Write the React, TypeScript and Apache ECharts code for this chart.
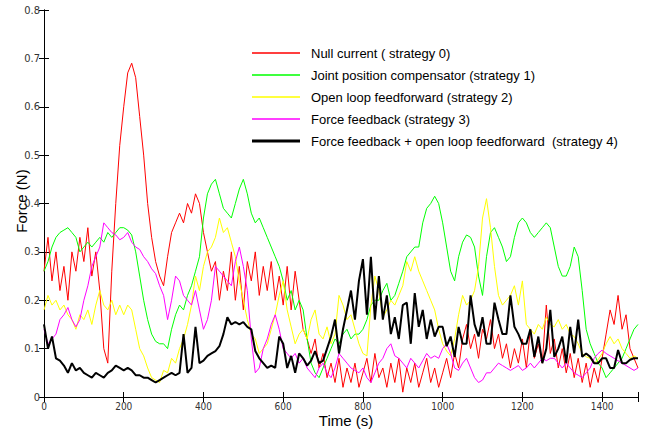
import React, { useEffect, useRef } from "react";
import * as echarts from "echarts";

// sample grid: one reading every 10 s, from 0 s to 1490 s
const STEP_S = 10;

const SERIES_NAMES = [
  "Null current ( strategy 0)",
  "Joint position compensator (strategy 1)",
  "Open loop feedforward (strategy 2)",
  "Force feedback (strategy 3)",
  "Force feedback + open loop feedforward  (strategy 4)",
];

const RED = [
  0.26, 0.33, 0.24, 0.30, 0.22, 0.27, 0.20, 0.30, 0.26, 0.33,
  0.28, 0.35, 0.25, 0.30, 0.22, 0.10, 0.07, 0.26, 0.40, 0.52,
  0.60, 0.67, 0.69, 0.66, 0.58, 0.50, 0.40, 0.33, 0.28, 0.25,
  0.23, 0.29, 0.34, 0.36, 0.38, 0.36, 0.40, 0.38, 0.42, 0.40,
  0.34, 0.30, 0.26, 0.28, 0.20, 0.26, 0.22, 0.30, 0.20, 0.27,
  0.18, 0.28, 0.24, 0.30, 0.21, 0.27, 0.22, 0.28, 0.20, 0.25,
  0.19, 0.27, 0.18, 0.26, 0.20, 0.14, 0.12, 0.09, 0.12, 0.06,
  0.09, 0.04, 0.07, 0.03, 0.08, 0.02, 0.06, 0.03, 0.07, 0.02,
  0.05, 0.08, 0.03, 0.09, 0.04, 0.06, 0.02, 0.07, 0.03, 0.08,
  0.01, 0.06, 0.03, 0.07, 0.02, 0.05, 0.08, 0.03, 0.06, 0.02,
  0.05, 0.08, 0.04, 0.09, 0.06, 0.12, 0.15, 0.10, 0.13, 0.08,
  0.14, 0.12, 0.16, 0.10, 0.13, 0.08, 0.11, 0.06, 0.10, 0.07,
  0.12, 0.06, 0.14, 0.08, 0.11, 0.07, 0.19, 0.09, 0.12, 0.06,
  0.10, 0.05, 0.09, 0.04, 0.08, 0.03, 0.07, 0.02, 0.06, 0.03,
  0.08, 0.13, 0.18, 0.15, 0.21, 0.14, 0.17, 0.10, 0.08, 0.06,
];

const GREEN = [
  0.26, 0.28, 0.31, 0.33, 0.34, 0.345, 0.35, 0.34, 0.33, 0.30,
  0.31, 0.32, 0.31, 0.32, 0.33, 0.32, 0.34, 0.33, 0.34, 0.35,
  0.35, 0.345, 0.335, 0.30, 0.25, 0.20, 0.16, 0.13, 0.115, 0.11,
  0.11, 0.10, 0.14, 0.17, 0.19, 0.18, 0.21, 0.23, 0.26, 0.29,
  0.37, 0.42, 0.44, 0.45, 0.42, 0.39, 0.38, 0.37, 0.40, 0.43,
  0.45, 0.42, 0.38, 0.36, 0.37, 0.35, 0.33, 0.31, 0.29, 0.27,
  0.24, 0.20, 0.22, 0.18, 0.20, 0.18, 0.12, 0.07, 0.05, 0.04,
  0.06, 0.08, 0.10, 0.12, 0.11, 0.13, 0.14, 0.12, 0.13, 0.13,
  0.14, 0.16, 0.19, 0.20, 0.20, 0.22, 0.235, 0.20, 0.21, 0.235,
  0.26, 0.29, 0.30, 0.31, 0.31, 0.36, 0.39, 0.40, 0.415, 0.40,
  0.36, 0.31, 0.26, 0.24, 0.29, 0.32, 0.335, 0.33, 0.31, 0.25,
  0.21, 0.29, 0.34, 0.35, 0.33, 0.31, 0.28, 0.29, 0.33, 0.36,
  0.37, 0.36, 0.34, 0.33, 0.34, 0.35, 0.36, 0.35, 0.31, 0.27,
  0.25, 0.25, 0.27, 0.31, 0.29, 0.22, 0.14, 0.11, 0.09, 0.07,
  0.06, 0.04, 0.05, 0.06, 0.07, 0.08, 0.10, 0.12, 0.14, 0.15,
];

const YELLOW = [
  0.18, 0.21, 0.19, 0.20, 0.18, 0.19, 0.17, 0.16, 0.14, 0.17,
  0.16, 0.18, 0.15, 0.19, 0.22, 0.19, 0.18, 0.20, 0.17, 0.19,
  0.17, 0.19, 0.18, 0.14, 0.10, 0.085, 0.06, 0.04, 0.035, 0.03,
  0.055, 0.05, 0.08, 0.07, 0.10, 0.12, 0.15, 0.19, 0.25, 0.22,
  0.27, 0.30, 0.31, 0.33, 0.37, 0.34, 0.35, 0.32, 0.29, 0.24,
  0.20, 0.16, 0.13, 0.12, 0.09, 0.10, 0.11, 0.14, 0.17, 0.21,
  0.24, 0.18, 0.145, 0.11, 0.13, 0.14, 0.12, 0.16, 0.18, 0.13,
  0.12, 0.145, 0.11, 0.13, 0.21, 0.19, 0.16, 0.17, 0.14, 0.11,
  0.09, 0.085, 0.19, 0.25, 0.22, 0.165, 0.18, 0.20, 0.19, 0.21,
  0.23, 0.28, 0.26, 0.29, 0.26, 0.24, 0.22, 0.20, 0.18, 0.14,
  0.11, 0.095, 0.085, 0.12, 0.17, 0.21, 0.19, 0.20, 0.22, 0.27,
  0.37, 0.41, 0.35, 0.27, 0.21, 0.19, 0.20, 0.21, 0.23, 0.19,
  0.24, 0.15, 0.14, 0.13, 0.15, 0.14, 0.165, 0.15, 0.145, 0.16,
  0.14, 0.15, 0.13, 0.125, 0.11, 0.09, 0.083, 0.08, 0.07, 0.077,
  0.09, 0.11, 0.125, 0.11, 0.12, 0.10, 0.09, 0.08, 0.085, 0.08,
];

const MAGENTA = [
  0.14, 0.11, 0.12, 0.13, 0.16, 0.17, 0.185, 0.16, 0.145, 0.16,
  0.20, 0.23, 0.27, 0.29, 0.31, 0.36, 0.35, 0.34, 0.335, 0.325,
  0.33, 0.34, 0.32, 0.31, 0.305, 0.29, 0.28, 0.265, 0.255, 0.23,
  0.21, 0.16, 0.20, 0.25, 0.24, 0.21, 0.20, 0.19, 0.22, 0.18,
  0.14, 0.16, 0.20, 0.27, 0.26, 0.25, 0.24, 0.23, 0.28, 0.31,
  0.27, 0.22, 0.12, 0.05, 0.06, 0.10, 0.12, 0.15, 0.17, 0.14,
  0.10, 0.09, 0.08, 0.09, 0.07, 0.08, 0.06, 0.05, 0.04, 0.06,
  0.07, 0.05, 0.04, 0.06, 0.09, 0.08, 0.07, 0.06, 0.055, 0.05,
  0.06, 0.04, 0.03, 0.05, 0.07, 0.08, 0.10, 0.11, 0.085, 0.08,
  0.07, 0.06, 0.08, 0.07, 0.06, 0.075, 0.09, 0.08, 0.085, 0.08,
  0.10, 0.11, 0.09, 0.06, 0.055, 0.07, 0.08, 0.06, 0.04, 0.03,
  0.035, 0.05, 0.05, 0.06, 0.07, 0.065, 0.06, 0.055, 0.06, 0.065,
  0.055, 0.06, 0.07, 0.06, 0.07, 0.08, 0.075, 0.08, 0.08, 0.07,
  0.06, 0.07, 0.06, 0.05, 0.045, 0.04, 0.05, 0.06, 0.08, 0.09,
  0.097, 0.09, 0.085, 0.08, 0.075, 0.07, 0.065, 0.06, 0.055, 0.06,
];

const BLACK = [
  0.15, 0.10, 0.125, 0.08, 0.075, 0.065, 0.05, 0.07, 0.055, 0.06,
  0.05, 0.045, 0.04, 0.05, 0.045, 0.04, 0.05, 0.055, 0.065, 0.06,
  0.055, 0.06, 0.055, 0.045, 0.045, 0.04, 0.04, 0.035, 0.03, 0.035,
  0.04, 0.045, 0.05, 0.045, 0.05, 0.13, 0.05, 0.06, 0.145, 0.07,
  0.075, 0.085, 0.09, 0.095, 0.105, 0.13, 0.165, 0.15, 0.155, 0.15,
  0.155, 0.145, 0.14, 0.095, 0.08, 0.07, 0.06, 0.065, 0.06, 0.125,
  0.11, 0.06, 0.085, 0.05, 0.09, 0.08, 0.065, 0.075, 0.095, 0.07,
  0.075, 0.10, 0.125, 0.16, 0.09, 0.14, 0.18, 0.22, 0.16, 0.24,
  0.285, 0.17, 0.29, 0.16, 0.25, 0.16, 0.21, 0.13, 0.165, 0.12,
  0.19, 0.195, 0.11, 0.215, 0.145, 0.18, 0.12, 0.16, 0.125, 0.145,
  0.145, 0.105, 0.125, 0.083, 0.145, 0.11, 0.11, 0.21, 0.15, 0.125,
  0.165, 0.11, 0.11, 0.195, 0.16, 0.13, 0.13, 0.21, 0.145, 0.13,
  0.11, 0.11, 0.14, 0.083, 0.125, 0.07, 0.10, 0.18, 0.083, 0.10,
  0.125, 0.07, 0.145, 0.09, 0.16, 0.083, 0.09, 0.083, 0.07, 0.07,
  0.08, 0.08, 0.06, 0.06, 0.097, 0.07, 0.07, 0.077, 0.08, 0.08,
];

const X_MIN = 0;
const X_MAX = 1490;
const X_INTERVAL = 200;
const Y_MIN = 0;
const Y_MAX = 0.8;
const Y_INTERVAL = 0.1;

const COLORS = ["#ff0000", "#00ff00", "#ffff00", "#ff00ff", "#000000"];
const WIDTHS = [1, 1, 1, 1, 2];
const VALUES = [RED, GREEN, YELLOW, MAGENTA, BLACK];

const SANS = "'Liberation Sans', Arial, Helvetica, sans-serif";
const NARROW = "'Liberation Sans Narrow', 'Arial Narrow', 'DejaVu Sans Condensed', sans-serif";

// legend sample: a horizontal bar of the given thickness inside a 48x14 box
const legendLineIcon = (thick: number) => {
  const y0 = 7 - thick / 2;
  const y1 = 7 + thick / 2;
  return (
    "path://M0,0 L0.01,0 L0,0.01 Z M48,14 L47.99,14 L48,13.99 Z " +
    `M0,${y0} L48,${y0} L48,${y1} L0,${y1} Z`
  );
};

export default function App() {
  const ref = useRef<HTMLDivElement>(null);

  useEffect(() => {
    if (!ref.current) return;
    const chart = echarts.init(ref.current, null, { renderer: "svg" });

    const toPairs = (vals: number[]) => vals.map((v, i) => [i * STEP_S, v]);

    const tickStyle = { show: true, inside: true, length: 5, lineStyle: { color: "#000", width: 1 } };
    const lineAxis = { show: true, lineStyle: { color: "#000", width: 1 } };

    const option: any = {
      animation: false,
      backgroundColor: "#ffffff",
      grid: { left: 44, right: 13, top: 10, bottom: 33, containLabel: false },
      xAxis: [
        {
          type: "value",
          min: X_MIN,
          max: X_MAX,
          interval: X_INTERVAL,
          axisLine: lineAxis,
          axisTick: tickStyle,
          splitLine: { show: false },
          axisLabel: {
            margin: 4,
            fontFamily: NARROW,
            fontSize: 10,
            lineHeight: 10,
            color: "#333",
            formatter: (v: number) => (v % X_INTERVAL === 0 ? String(v) : ""),
          },
        },
        {
          type: "value",
          position: "top",
          min: X_MIN,
          max: X_MAX,
          interval: X_INTERVAL,
          axisLine: lineAxis,
          axisTick: tickStyle,
          splitLine: { show: false },
          axisLabel: { show: false },
        },
      ],
      yAxis: [
        {
          type: "value",
          min: Y_MIN,
          max: Y_MAX,
          interval: Y_INTERVAL,
          axisLine: lineAxis,
          axisTick: tickStyle,
          splitLine: { show: false },
          axisLabel: {
            margin: 4,
            fontFamily: NARROW,
            fontSize: 11,
            color: "#333",
            formatter: (v: number) => String(Math.round(v * 10) / 10),
          },
        },
        {
          type: "value",
          position: "right",
          min: Y_MIN,
          max: Y_MAX,
          interval: Y_INTERVAL,
          axisLine: lineAxis,
          axisTick: tickStyle,
          splitLine: { show: false },
          axisLabel: { show: false },
        },
      ],
      legend: {
        data: SERIES_NAMES.map((name, k) => ({
          name,
          icon: legendLineIcon(k === 4 ? 3 : 1.3),
          itemStyle: { color: COLORS[k] },
        })),
        orient: "vertical",
        left: 252,
        top: 46,
        itemWidth: 48,
        itemHeight: 14,
        itemGap: 8,
        padding: 0,
        selectedMode: false,
        textStyle: { fontFamily: SANS, fontSize: 13, color: "#000", padding: [0, 0, 0, 6] },
      },
      graphic: [
        {
          type: "text",
          x: 346,
          y: 420,
          style: {
            text: "Time (s)",
            fontFamily: SANS,
            fontSize: 15,
            fill: "#000",
            textAlign: "center",
            textVerticalAlign: "middle",
          },
        },
        {
          type: "text",
          x: 21,
          y: 201,
          rotation: Math.PI / 2,
          style: {
            text: "Force (N)",
            fontFamily: SANS,
            fontSize: 15,
            fill: "#000",
            textAlign: "center",
            textVerticalAlign: "middle",
          },
        },
      ],
      series: SERIES_NAMES.map((name, k) => ({
        name,
        type: "line",
        xAxisIndex: 0,
        yAxisIndex: 0,
        data: toPairs(VALUES[k]),
        symbol: "none",
        showSymbol: false,
        silent: true,
        lineStyle: { color: COLORS[k], width: WIDTHS[k] },
        itemStyle: { color: COLORS[k] },
        z: 2 + k,
      })),
    };

    chart.setOption(option);
    return () => chart.dispose();
  }, []);

  return (
    <div
      ref={ref}
      style={{ position: "absolute", left: 0, top: 0, width: 651, height: 430 }}
    />
  );
}
